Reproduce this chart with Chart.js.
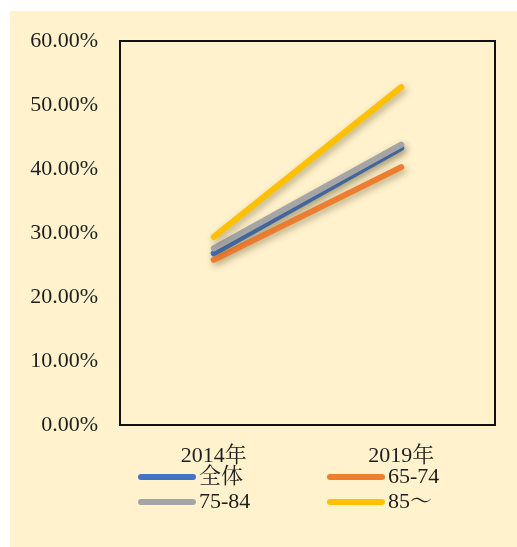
<!DOCTYPE html>
<html>
<head>
<meta charset="utf-8">
<title>年齢別の推移</title>
<script src="https://cdn.jsdelivr.net/npm/chart.js@4"></script>
<style>
    html, body { margin: 0; padding: 0; background: #ffffff; }
    #wrap { position: relative; width: 517px; height: 547px; }
</style>
</head>
<body>
<div id="wrap"><canvas id="myChart" width="517" height="547"></canvas></div>
<script>
    "use strict";

    // data (percent)
    const years = ['2014年', '2019年'];
    const seriesNames = ['全体', '65-74', '75-84', '85～'];
    const allAges = [26.8, 43.3];
    const age65to74 = [25.8, 40.3];
    const age75to84 = [27.6, 43.8];
    const age85up = [29.4, 52.8];
    const yTicks = [0, 10, 20, 30, 40, 50, 60];

    const colors = ['#4472C4', '#ED7D31', '#A5A5A5', '#FFC000'];
    const FONT = "'Liberation Serif', 'Noto Serif CJK JP', 'Noto Sans CJK JP', serif";

    // cream panel + plot frame
    const panelPlugin = {
        id: 'panel',
        beforeDraw(chart) {
            const ctx = chart.ctx;
            ctx.save();
            ctx.fillStyle = '#FFF2CC';
            ctx.fillRect(10, 11, chart.width - 10, chart.height - 11);
            ctx.restore();
        },
        afterDatasetsDraw(chart) {
            const a = chart.chartArea;
            const ctx = chart.ctx;
            ctx.save();
            ctx.strokeStyle = '#111';
            ctx.lineWidth = 2;
            ctx.strokeRect(a.left, a.top, a.right - a.left, a.bottom - a.top);
            ctx.restore();
        }
    };

    // soft drop shadow under each line
    const shadowPlugin = {
        id: 'lineShadow',
        beforeDatasetDraw(chart) {
            const ctx = chart.ctx;
            ctx.save();
            ctx.shadowColor = 'rgba(70, 60, 20, 0.4)';
            ctx.shadowBlur = 7;
            ctx.shadowOffsetX = 2;
            ctx.shadowOffsetY = 3;
        },
        afterDatasetDraw(chart) {
            chart.ctx.restore();
        }
    };

    // two-column legend under the x labels
    const legendPlugin = {
        id: 'gridLegend',
        afterDraw(chart) {
            const a = chart.chartArea;
            const ctx = chart.ctx;
            const cols = [a.left + 18, a.left + 207];
            const rows = [a.bottom + 52, a.bottom + 77];
            ctx.save();
            ctx.font = '22px ' + FONT;
            ctx.textBaseline = 'middle';
            ctx.lineCap = 'round';
            chart.data.datasets.forEach((ds, i) => {
                const x = cols[i % 2], y = rows[Math.floor(i / 2)];
                ctx.strokeStyle = ds.borderColor;
                ctx.lineWidth = 6;
                ctx.beginPath();
                ctx.moveTo(x + 3, y);
                ctx.lineTo(x + 55, y);
                ctx.stroke();
                ctx.fillStyle = '#1e1e1e';
                ctx.fillText(ds.label, x + 61, y);
            });
            ctx.restore();
        }
    };

    const seriesData = [allAges, age65to74, age75to84, age85up];

    const ctx = document.getElementById('myChart').getContext('2d');
    const chart = new Chart(ctx, {
        type: 'line',
        data: {
            labels: years,
            datasets: seriesNames.map((name, i) => ({
                label: name,
                data: seriesData[i],
                borderColor: colors[i],
                backgroundColor: colors[i],
                borderWidth: 6,
                borderCapStyle: 'round',
                pointRadius: 0,
                fill: false,
                order: 4 - i
            }))
        },
        options: {
            responsive: false,
            animation: false,
            layout: { padding: { top: 41, right: 22, left: 0, bottom: 0 } },
            plugins: {
                legend: { display: false },
                tooltip: { enabled: false }
            },
            scales: {
                x: {
                    offset: true,
                    grid: { display: false, drawTicks: false },
                    border: { display: false },
                    ticks: { padding: 18, color: '#1e1e1e', font: { family: FONT, size: 22 } },
                    afterFit(scale) { scale.height = 122; }
                },
                y: {
                    min: 0,
                    max: 60,
                    afterBuildTicks(scale) { scale.ticks = yTicks.map(v => ({ value: v })); },
                    grid: { display: false, drawTicks: false },
                    border: { display: false },
                    ticks: {
                        padding: 22,
                        color: '#1e1e1e',
                        font: { family: FONT, size: 22 },
                        callback: v => v.toFixed(2) + '%'
                    },
                    afterFit(scale) { scale.width = 120; }
                }
            }
        },
        plugins: [panelPlugin, shadowPlugin, legendPlugin]
    });
</script>
</body>
</html>
